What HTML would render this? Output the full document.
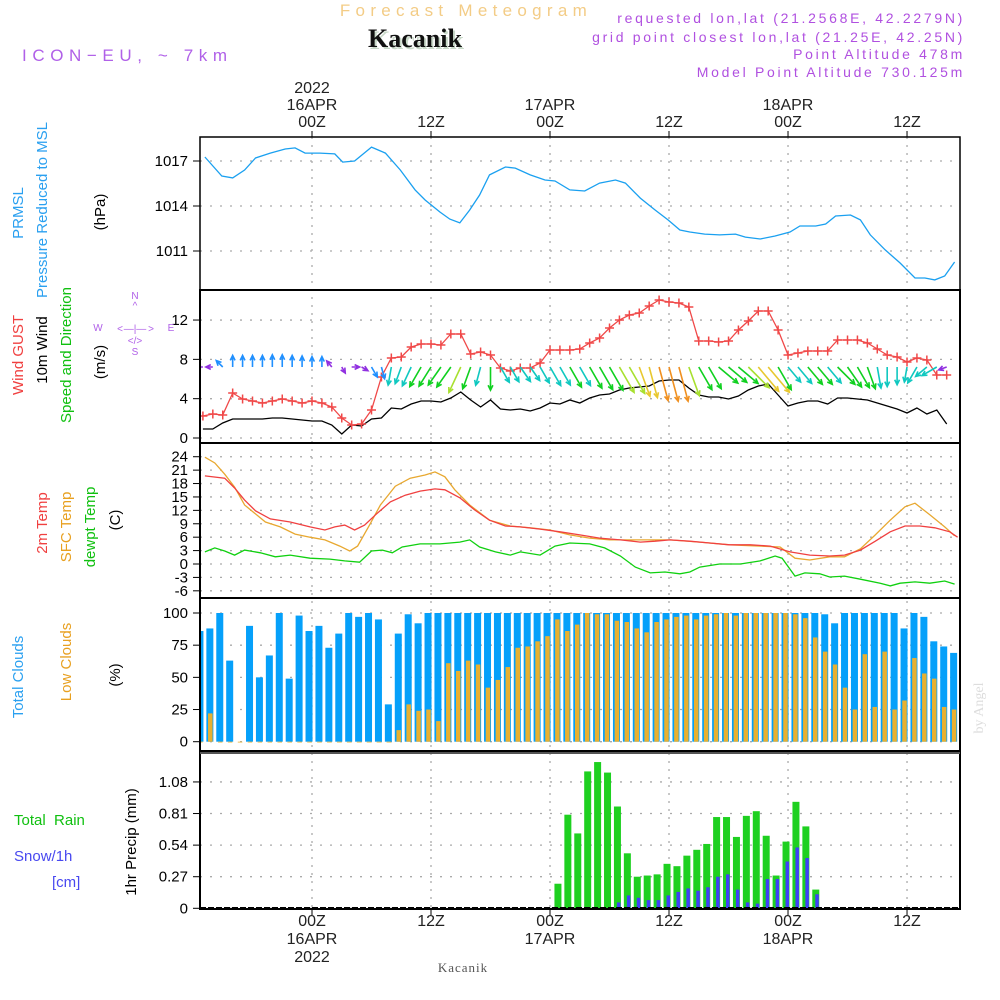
<!DOCTYPE html>
<html><head><meta charset="utf-8"><style>
html,body{margin:0;padding:0;background:#fff;}
svg{display:block;font-family:"Liberation Sans",sans-serif;}
</style></head><body>
<svg id="chart" width="1000" height="1000" viewBox="0 0 1000 1000" xmlns="http://www.w3.org/2000/svg">
<defs><clipPath id="plotclip"><rect x="200" y="137" width="760" height="772"/></clipPath></defs>
<g>
<text x="466" y="16" text-anchor="middle" font-size="17" letter-spacing="5.3" fill="#f3cc86">Forecast Meteogram</text>
<text x="417" y="49" text-anchor="middle" font-size="26" font-weight="bold" font-family="Liberation Serif, serif" fill="#c8d8c8">Kacanik</text>
<text x="415" y="47" text-anchor="middle" font-size="26" font-weight="bold" font-family="Liberation Serif, serif" fill="#111">Kacanik</text>
<text x="22" y="61" font-size="17" letter-spacing="5.6" fill="#b060e8">ICON−EU, ~ 7km</text>
<g font-size="14" fill="#b050e0" text-anchor="end" letter-spacing="2.7">
<text x="965" y="23">requested lon,lat (21.2568E, 42.2279N)</text>
<text x="965" y="42">grid point closest lon,lat (21.25E, 42.25N)</text>
<text x="965" y="59">Point Altitude 478m</text>
<text x="965" y="77">Model Point Altitude 730.125m</text>
</g>
</g>
<g id="grid"></g>
<g id="series" clip-path="url(#plotclip)"></g>
<g id="axes"></g>
<g font-size="15">
<text transform="translate(23,213) rotate(-90)" text-anchor="middle" fill="#2aa0f0">PRMSL</text>
<text transform="translate(47,210) rotate(-90)" text-anchor="middle" fill="#2aa0f0">Pressure Reduced to MSL</text>
<text transform="translate(105,212) rotate(-90)" text-anchor="middle" fill="#000">(hPa)</text>
<text transform="translate(23,355) rotate(-90)" text-anchor="middle" fill="#f04040">Wind GUST</text>
<text transform="translate(47,350) rotate(-90)" text-anchor="middle" fill="#000">10m Wind</text>
<text transform="translate(71,355) rotate(-90)" text-anchor="middle" fill="#10c010">Speed and Direction</text>
<text transform="translate(105,362) rotate(-90)" text-anchor="middle" fill="#000">(m/s)</text>
<g fill="#b060e8" font-size="10" text-anchor="middle">
<text x="135" y="299">N</text><text x="135" y="309">^</text><text x="135" y="332">—|—</text><text x="98" y="331">W</text><text x="120" y="332">&lt;</text><text x="151" y="332">&gt;</text><text x="171" y="331">E</text><text x="135" y="344">&lt;/&gt;</text><text x="135" y="355">S</text>
</g>
<text transform="translate(47,523) rotate(-90)" text-anchor="middle" fill="#f04040">2m Temp</text>
<text transform="translate(71,527) rotate(-90)" text-anchor="middle" fill="#e8a020">SFC Temp</text>
<text transform="translate(95,527) rotate(-90)" text-anchor="middle" fill="#10c010">dewpt Temp</text>
<text transform="translate(120,520) rotate(-90)" text-anchor="middle" fill="#000">(C)</text>
<text transform="translate(23,677) rotate(-90)" text-anchor="middle" fill="#2aa0f0">Total Clouds</text>
<text transform="translate(71,662) rotate(-90)" text-anchor="middle" fill="#e8a020">Low Clouds</text>
<text transform="translate(120,675) rotate(-90)" text-anchor="middle" fill="#000">(%)</text>
<text x="14" y="825" fill="#10c010" xml:space="preserve">Total  Rain</text>
<text x="14" y="861" fill="#4848f0">Snow/1h</text>
<text x="52" y="887" fill="#4848f0">[cm]</text>
<text transform="translate(136,842) rotate(-90)" text-anchor="middle" fill="#000">1hr Precip (mm)</text>
<text x="463" y="972" text-anchor="middle" font-size="13" font-family="Liberation Serif, serif" fill="#555" letter-spacing="1">Kacanik</text>
<text transform="translate(983,708) rotate(-90)" text-anchor="middle" font-size="14" font-family="Liberation Serif, serif" fill="#ddd">by Angel</text>
</g>
</svg>
<script>
// ---- data ----
const presHours=[-10.8,-9.1,-8,-6.8,-5.7,-4.2,-2.7,-1.7,-0.7,0.8,2.3,3.1,4.3,6,7.4,8.9,10.4,11.4,12.9,13.9,14.9,15.9,16.9,17.9,19.5,20.5,22,23.5,24.5,26,27.5,29,30.6,31.6,33.1,34.6,35.9,37.1,38.1,39.6,41.1,42.7,43.7,45.2,46.7,48.2,49.2,50.8,51.8,52.8,54.3,55.3,56.3,57.8,59.3,60.8,61.8,62.8,63.8,64.8];
const presVals=[1017.27,1016.0,1015.87,1016.4,1017.2,1017.53,1017.8,1017.87,1017.53,1017.53,1017.47,1016.93,1017.0,1017.93,1017.53,1016.4,1015.07,1014.4,1013.6,1013.13,1012.87,1013.73,1014.73,1016.07,1016.6,1016.53,1016.07,1015.73,1015.67,1015.07,1015.0,1015.53,1015.73,1015.53,1014.53,1013.73,1013.07,1012.4,1012.27,1012.13,1012.07,1012.13,1011.93,1011.8,1012.0,1012.27,1012.67,1012.67,1012.8,1013.33,1013.4,1013.07,1012.07,1011.07,1010.2,1009.2,1009.2,1009.07,1009.33,1010.27];
const windStartHour=-11;
const gustVals=[2.24,2.44,2.34,4.58,3.97,3.76,3.56,3.76,3.97,3.76,3.56,3.76,3.56,3.15,2.03,1.32,1.42,2.85,6.21,8.14,8.24,9.26,9.56,9.56,9.46,10.58,10.58,8.55,8.75,8.44,7.12,6.82,7.12,7.12,7.63,8.95,8.95,8.95,9.05,9.66,10.17,11.19,12.0,12.51,12.72,13.43,14.04,13.84,13.73,13.33,9.87,9.87,9.77,9.87,10.99,11.9,12.92,12.92,10.99,8.44,8.65,8.85,8.85,8.85,9.97,9.97,9.97,9.66,9.05,8.44,8.24,7.73,8.14,7.93,6.41,6.41];
const speedVals=[0.92,0.92,1.53,1.93,1.93,1.93,1.93,2.03,2.03,1.93,1.83,1.73,1.73,1.32,0.41,1.32,1.22,1.93,2.03,3.05,2.95,3.46,3.76,3.76,3.66,4.07,4.68,3.87,3.15,3.87,2.95,2.85,2.95,2.75,3.05,3.56,3.46,3.87,3.56,4.07,4.37,4.48,4.88,5.09,5.19,5.29,5.8,5.9,5.9,5.09,4.37,4.17,4.17,3.97,4.27,4.88,5.29,5.49,4.37,3.26,3.56,3.76,3.76,3.46,4.07,4.07,3.97,3.87,3.56,3.26,2.95,2.54,3.05,2.44,2.85,1.42];
const dirVals=[270,270,315,0,0,0,0,0,0,0,0,0,0,320,150,90,120,150,165,190,200,205,210,212,215,215,205,200,195,180,150,150,145,145,150,150,150,150,150,150,150,150,150,150,160,165,165,165,165,160,150,150,130,130,130,135,140,140,150,140,140,140,140,140,135,145,150,160,170,180,180,190,210,230,240,250];
const t2Hours=[-10.8,-8.8,-7.8,-6.8,-5.7,-4.2,-2.2,-0.2,1.3,2.3,3.3,4.3,5.3,6.4,7.9,9.4,10.9,12.4,13.4,14.9,16.4,17.9,19.5,21,23,25,27,29,31.1,33.1,34.6,36.1,38.1,40.1,42.1,44.2,46.2,48.2,50.2,52.2,53.7,55.3,56.8,58.3,59.8,61.3,62.8,64.3,65.1];
const t2Vals=[19.7,19.2,17.0,14.3,11.9,10.1,9.4,8.3,7.6,8.3,8.7,7.6,8.7,11.0,13.9,15.4,16.3,16.8,16.6,14.8,12.1,9.8,8.5,8.3,7.8,7.2,6.5,5.8,5.4,4.9,5.1,5.4,5.1,4.7,4.3,4.3,4.0,2.7,2.0,1.8,2.0,3.1,5.1,7.2,8.5,8.5,8.1,7.2,6.0];
const sfcHours=[-10.8,-9.8,-8.8,-7.8,-6.8,-5.7,-4.7,-3.2,-1.7,-0.2,1.3,2.8,3.8,4.6,5.8,6.9,8.4,9.9,11.4,12.4,13.4,14.4,15.9,17.9,20,22,24,26,28,30,33.1,36.1,39.1,42.1,45.2,47.2,48.7,50.2,52.2,53.7,55.3,56.8,58.3,59.8,60.8,62.3,63.8,64.8];
const sfcVals=[23.9,22.6,20.1,17.2,13.2,11.2,9.4,8.3,6.7,6.0,5.4,4.0,2.9,4.0,8.7,13.2,17.4,19.2,19.9,20.6,19.5,16.6,13.2,9.8,8.5,8.1,7.6,6.5,5.8,5.4,5.4,5.4,4.9,4.3,4.0,3.8,1.3,0.9,1.6,1.6,3.4,6.5,9.8,12.8,13.6,11.0,8.3,6.3];
const dewHours=[-10.8,-9.8,-8.8,-7.8,-6.8,-5.2,-3.7,-2.2,-0.2,1.8,3.3,4.8,6,7.1,8.1,9.1,10.9,12.9,14.9,15.9,16.9,18.5,20,21,23,24.5,26,28,29.5,31.1,32.6,34.1,35.6,37.1,38.1,39.1,41.1,43.2,45.2,46.7,47.4,48.7,49.7,51.2,52.2,53.7,55.3,57.3,58.3,59.3,60.8,62.3,63.8,64.8];
const dewVals=[2.7,3.6,2.9,2.0,3.1,2.5,1.6,2.0,1.3,1.1,0.7,0.4,2.9,3.1,2.5,3.8,4.5,4.5,4.9,5.4,3.8,2.7,2.0,2.7,2.0,4.0,4.7,4.5,3.6,1.8,-0.7,-2.0,-1.8,-2.2,-1.8,-0.7,0,0,0.7,1.8,1.3,-2.7,-2.0,-2.2,-2.9,-2.7,-3.4,-4.3,-4.9,-4.3,-4.0,-4.3,-3.8,-4.5];
const cloudStartHour=-11.3;
const totalClouds=[86,88,100,63,0,90,50,67,100,49,98,86,90,73,84,100,97,100,95,29,84,99,92,100,100,100,100,100,100,100,100,100,100,100,100,100,100,100,100,100,100,100,100,100,100,100,100,100,100,100,100,100,100,100,100,100,100,100,100,100,100,100,100,99,92,100,100,100,100,100,100,88,100,97,78,74,69];
const lowClouds=[0,22,0,0,0,0,0,0,0,0,0,0,0,0,0,0,0,0,0,0,9,29,24,25,16,61,55,63,60,42,48,58,73,74,78,82,95,86,91,100,99,99,94,93,88,85,93,95,97,98,95,98,99,100,98,100,100,100,100,100,99,96,81,70,60,42,25,68,27,70,25,32,65,53,49,27,25];
const precipStartHour=24.8;
const rainVals=[0.21,0.80,0.64,1.17,1.25,1.16,0.87,0.47,0.27,0.28,0.29,0.38,0.36,0.45,0.50,0.55,0.78,0.78,0.61,0.79,0.83,0.62,0.28,0.57,0.91,0.70,0.16];
const snowVals=[0,0,0,0,0,0,0.05,0.11,0.09,0.07,0.07,0.11,0.14,0.17,0.15,0.18,0.27,0.29,0.16,0.05,0.04,0.25,0.25,0.40,0.52,0.43,0.12];
const presTicks=[1017,1014,1011];
const windTicks=[12,8,4,0];
const tempTicks=[24,21,18,15,12,9,6,3,0,-3,-6];
const cloudTicks=[100,75,50,25,0];
const precipTicks=[1.08,0.81,0.54,0.27,0];
const timeTickHours=[0,12,24,36,48,60];
const timeTickLabels=["00Z","12Z","00Z","12Z","00Z","12Z"];
const dayLabels=["16APR","","17APR","","18APR",""];
const yearLabels=["2022","","","","",""];

// ---- scales ----
const NS="http://www.w3.org/2000/svg";
const xOf=h=>312+h*9.917;
const yP=v=>161+(1017-v)*15;
const yW=v=>438-v*9.83;
const yT=v=>564-v*4.47;
const yC=v=>741.7-v*1.287;
const yR=v=>908.3-v*117;
const X0=200,X1=960;
const panels=[[137,290],[290,443],[443,598],[598,751],[753,909]];
function el(tag,attrs,parent){const e=document.createElementNS(NS,tag);for(const k in attrs)e.setAttribute(k,attrs[k]);parent.appendChild(e);return e;}
const G=document.getElementById('grid'),S=document.getElementById('series'),A=document.getElementById('axes');

function hgrid(ticks,yf,name){ticks.forEach(t=>{const l=el('line',{x1:X0,x2:X1,y1:yf(t),y2:yf(t),stroke:'#aaa','stroke-width':1.3,'stroke-dasharray':'2 8'},G);

});}
hgrid(presTicks,yP,'pressure');hgrid(windTicks,yW,'wind');hgrid(tempTicks,yT,'temp');hgrid(cloudTicks,yC,'cloud');hgrid(precipTicks,yR,'precip');
timeTickHours.forEach(h=>{const l=el('line',{x1:xOf(h),x2:xOf(h),y1:137,y2:909,stroke:'#aaa','stroke-width':1.3,'stroke-dasharray':'2 6'},G);

});

function line(hours,vals,yf,color,name,w){const d=hours.map((h,i)=>(i?'L':'M')+xOf(h).toFixed(1)+' '+yf(vals[i]).toFixed(1)).join(' ');
const p=el('path',{d:d,fill:'none',stroke:color,'stroke-width':w||1.3},S);

return p;}
line(presHours,presVals,yP,'#1aa0f0','pressure-line');

const wHours=gustVals.map((v,i)=>windStartHour+i);
line(wHours,speedVals,yW,'#000','wind-speed-line');
line(wHours,gustVals,yW,'#f04848','wind-gust-line');
gustVals.forEach((v,i)=>{const x=xOf(windStartHour+i),y=yW(v);
const m=el('path',{d:`M${x-4.5} ${y}H${x+4.5}M${x} ${y-4.5}V${y+4.5}`,stroke:'#f04848','stroke-width':1.5},S);

});
function windColor(s){if(s<1.5)return'#9030e0';if(s<2.3)return'#2090ff';if(s<3.6)return'#10c8c0';if(s<4.6)return'#10d020';if(s<5.1)return'#a8e030';if(s<5.6)return'#e8c830';return'#f09020';}
dirVals.forEach((d,i)=>{const s=speedVals[i];const len=Math.max(7,s*6);const x=xOf(windStartHour+i),y=367;
const a=d*Math.PI/180;const x2=x+Math.sin(a)*len,y2=y-Math.cos(a)*len;
const hx1=x2-Math.sin(a-0.45)*5.5,hy1=y2+Math.cos(a-0.45)*5.5,hx2=x2-Math.sin(a+0.45)*5.5,hy2=y2+Math.cos(a+0.45)*5.5;
const c=windColor(s);
const g=el('path',{d:`M${x} ${y}L${x2} ${y2}M${hx1} ${hy1}L${x2} ${y2}L${hx2} ${hy2}`,fill:'none',stroke:c,'stroke-width':1.6},S);

});

line(sfcHours,sfcVals,yT,'#e8a830','sfc-temp-line');
line(t2Hours,t2Vals,yT,'#f04040','temp-2m-line');
line(dewHours,dewVals,yT,'#10d010','dewpoint-line');

totalClouds.forEach((v,i)=>{const x=xOf(cloudStartHour+i);
const r=el('rect',{x:x-3.5,y:yC(v),width:7,height:yC(0)-yC(v),fill:'#05a0fa'},S);

});
lowClouds.forEach((v,i)=>{const x=xOf(cloudStartHour+i);
const r=el('rect',{x:x-1.8,y:yC(v),width:4.5,height:Math.max(0.8,yC(0)-yC(v)),fill:'#e8b030'},S);

});

rainVals.forEach((v,i)=>{const x=xOf(precipStartHour+i);
const r=el('rect',{x:x-3.5,y:yR(v),width:7,height:yR(0)-yR(v),fill:'#1ed020'},S);

});
snowVals.forEach((v,i)=>{if(v<=0)return;const x=xOf(precipStartHour+i);
const r=el('rect',{x:x-0.5,y:yR(v),width:3.5,height:yR(0)-yR(v),fill:'#4040f8'},S);

});
const base=el('line',{x1:X0,x2:X1,y1:908,y2:908,stroke:'#000','stroke-width':2,'stroke-dasharray':'6 2'},S);



panels.forEach((p,i)=>{const r=el('rect',{x:X0,y:p[0],width:X1-X0,height:p[1]-p[0],fill:'none',stroke:'#000','stroke-width':i==0?1.5:2},A);

});
el('line',{x1:X0,x2:X1,y1:753,y2:753,stroke:'#555','stroke-width':2},A);
function yticks(ticks,yf,name,fmt){ticks.forEach(t=>{const y=yf(t);
const l=el('line',{x1:X0-7,x2:X0,y1:y,y2:y,stroke:'#000','stroke-width':1},A);


const tx=el('text',{x:X0-12,y:y+5,'text-anchor':'end','font-size':15,fill:'#000'},A);
tx.textContent=fmt?fmt(t):String(t);

});}
yticks(presTicks,yP,'pressure');yticks(windTicks,yW,'wind');yticks(tempTicks,yT,'temp');yticks(cloudTicks,yC,'cloud');
yticks(precipTicks,yR,'precip',t=>t===0?'0':t.toFixed(2));
timeTickHours.forEach((h,i)=>{const x=xOf(h);
[[137,-6],[909,6]].forEach(([y,dy])=>{const t=el('line',{x1:x,x2:x,y1:y,y2:y+dy,stroke:'#000'},A);

});
const lines=[[timeTickLabels[i],127,926],[dayLabels[i],110,944],[yearLabels[i],93,962]];
lines.forEach(([txt,yt,yb])=>{if(!txt)return;
[yt,yb].forEach(y=>{const tx=el('text',{x:x,y:y,'text-anchor':'middle','font-size':16,fill:'#222'},A);
tx.textContent=txt;

});});});
</script>
</body></html>
